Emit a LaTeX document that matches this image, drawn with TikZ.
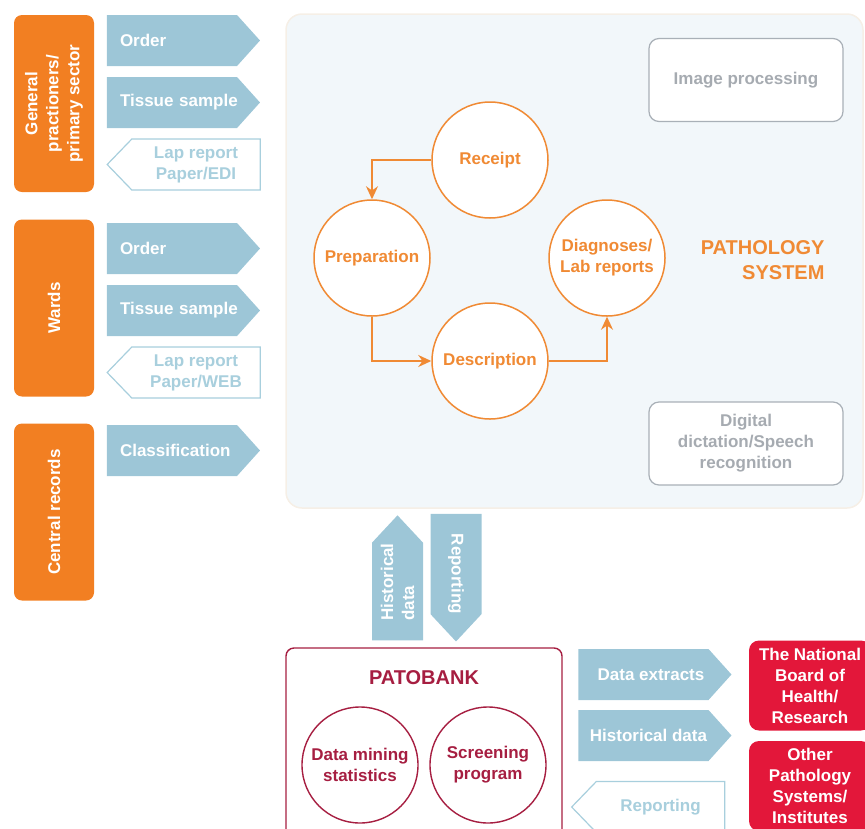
\documentclass[tikz,border=0pt]{standalone}
\usepackage{fontspec}
\setmainfont{Liberation Sans}
\usetikzlibrary{shapes.symbols,shapes.geometric,arrows.meta,positioning}

\definecolor{orangebox}{HTML}{F27F22}
\definecolor{orangeline}{HTML}{F08A34}
\definecolor{arrowblue}{HTML}{9DC6D7}
\definecolor{lineblue}{HTML}{A8CFDD}
\definecolor{panelfill}{HTML}{F2F7FA}
\definecolor{panelline}{HTML}{F6EFE6}
\definecolor{greyline}{HTML}{A9B0B7}
\definecolor{greytext}{HTML}{A6ABB1}
\definecolor{bankred}{HTML}{A61E41}
\definecolor{agencyred}{HTML}{E3173A}

\tikzstyle{source} = [rectangle, rounded corners=8pt, rotate=90, minimum width=177pt, minimum height=80pt, align=center, text=white, fill=orangebox]
\tikzstyle{sendarrow} = [signal, signal to=east, signal pointer angle=96, minimum width=153pt, minimum height=51pt, inner sep=0pt, text width=104pt, align=left, text=white, fill=arrowblue]
\tikzstyle{returnarrow} = [signal, signal to=west, signal pointer angle=92, minimum width=153pt, minimum height=51pt, inner sep=0pt, align=center, line width=1.2pt, text=lineblue, draw=lineblue, fill=white]
\tikzstyle{linkarrow} = [signal, signal to=east, signal pointer angle=86, minimum width=125pt, minimum height=51pt, inner sep=0pt, align=left, text=white, fill=arrowblue]
\tikzstyle{stage} = [circle, minimum size=116pt, inner sep=0pt, align=center, line width=1.5pt, text=orangeline, draw=orangeline, fill=white]
\tikzstyle{module} = [rectangle, rounded corners=10pt, minimum width=194pt, minimum height=83pt, align=center, line width=1.2pt, text=greytext, draw=greyline, fill=white]
\tikzstyle{bankpart} = [circle, minimum size=116pt, inner sep=0pt, align=center, line width=1.4pt, text=bankred, draw=bankred]
\tikzstyle{agency} = [rectangle, rounded corners=10pt, minimum width=122pt, minimum height=90pt, align=center, text=white, fill=agencyred]
\tikzstyle{flow} = [line width=1.5pt, draw=orangeline, -{Stealth[length=13pt,width=12pt]}]

\begin{document}
\begin{tikzpicture}[x=1pt, y=-1pt, node distance=62pt, font=\bfseries\fontsize{17}{21}\selectfont]
\useasboundingbox (0,0) rectangle (865,828);

% senders on the left
\node (gp) [source] at (54,103.5) {General\\practioners/\\primary sector};
\node (wards) [source] at (54,308) {Wards};
\node (central) [source] at (54,512) {Central records};

\node (order1) [sendarrow] at (172,40.5) {Order};
\node (tissue1) [sendarrow, below of=order1] {\mbox{Tissue sample}};
\node (lap1) [returnarrow, below of=tissue1, xshift=24pt] {Lap report\\Paper/EDI};
\node (order2) [sendarrow] at (172,248.5) {Order};
\node (tissue2) [sendarrow, below of=order2] {\mbox{Tissue sample}};
\node (lap2) [returnarrow, below of=tissue2, xshift=24pt] {Lap report\\Paper/WEB};
\node (class) [sendarrow] at (172,450.5) {Classification};

% pathology system
\filldraw [fill=panelfill, draw=panelline, line width=1.5pt, rounded corners=16pt] (286,14) rectangle (863,508);
\node (image) [module] at (746,80) {Image processing};
\node (dictation) [module] at (746,443.5) {Digital\\dictation/Speech\\recognition};
\node (system) [anchor=east, align=right, text=orangeline, font=\bfseries\fontsize{20}{25}\selectfont] at (828,260.5) {PATHOLOGY\\SYSTEM};

\node (receipt) [stage] at (490,160) {Receipt};
\node (prep) [stage] at (372,258) {Preparation};
\node (diag) [stage] at (607,258) {Diagnoses/\\Lab reports};
\node (desc) [stage] at (490,361) {Description};

\draw [flow] (receipt.west) -| (prep.north);
\draw [flow] (prep.south) |- (desc.west);
\draw [flow] (desc.east) -| (diag.south);

% exchange with patobank
\node (histup) [linkarrow, rotate=90] at (397.5,591.5) {\hspace*{19pt}Historical\\\hspace*{19pt}data};
\node (repdown) [linkarrow, rotate=-90] at (456,564) {\hspace*{20pt}Reporting};

% patobank
\draw [draw=bankred, line width=1.4pt, rounded corners=8pt] (286,648) rectangle (562,845);
\node (bank) [text=bankred, font=\bfseries\fontsize{20}{25}\selectfont] at (424,678) {PATOBANK};
\node (mining) [bankpart] at (360,765) {Data mining\\statistics};
\node (screen) [bankpart] at (488,765) {Screening\\program};

\node (extracts) [sendarrow, text width=, align=center] at (643.5,674.5) {\hspace*{15pt}Data extracts};
\node (histout) [sendarrow, text width=, align=center] at (643.5,735.5) {\hspace*{10pt}Historical data};
\node (repin) [returnarrow] at (660.5,807) {Reporting};

\node (board) [agency] at (810,685.5) {The National\\Board of\\Health/\\Research};
\node (others) [agency] at (810,786) {Other\\Pathology\\Systems/\\Institutes};

\end{tikzpicture}
\end{document}
